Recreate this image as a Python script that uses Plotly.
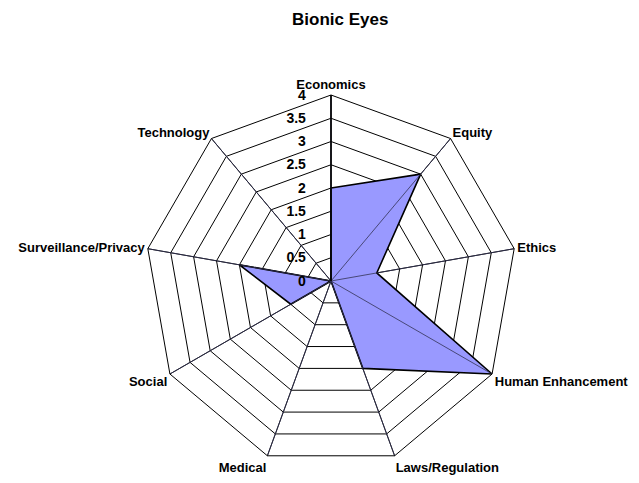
import plotly.graph_objects as go

categories = ["Economics", "Equity", "Ethics", "Human Enhancement", "Laws/Regulation",
              "Medical", "Social", "Surveillance/Privacy", "Technology"]
values = [2, 3, 1, 4, 2, 0, 1, 2, 0]
tick_vals = [0, 0.5, 1, 1.5, 2, 2.5, 3, 3.5, 4]
tick_text = ["0", "0.5", "1", "1.5", "2", "2.5", "3", "3.5", "4"]
r_max = 4

fig = go.Figure()
fig.add_trace(go.Scatterpolar(
    r=values + [values[0]],
    theta=categories + [categories[0]],
    mode="lines",
    fill="toself",
    fillcolor="#9999FF",
    line=dict(color="#000000", width=1.6),
    showlegend=False,
    hoverinfo="skip",
))

# spokes visible through the filled area
for c in categories:
    fig.add_trace(go.Scatterpolar(
        r=[0, r_max], theta=[c, c], mode="lines",
        line=dict(color="#333355", width=0.8),
        showlegend=False, hoverinfo="skip",
    ))

pad = "\u00a0" * 5
fig.update_layout(
    width=639, height=483,
    paper_bgcolor="white",
    margin=dict(l=0, r=0, t=0, b=0),
    font=dict(family="Liberation Sans, Arial, sans-serif", size=12, color="black"),
    title=dict(text="<b>Bionic Eyes</b>", x=0.52, xanchor="center", y=0.977, yanchor="middle",
               font=dict(size=17, color="black")),
    polar=dict(
        domain=dict(x=[137/639, 509/639], y=[1-459/483, 1-87/483]),
        bgcolor="white",
        gridshape="linear",
        angularaxis=dict(
            rotation=90, direction="clockwise",
            linecolor="black", linewidth=1,
            gridcolor="black", gridwidth=1,
            showline=True, ticks="",
            tickfont=dict(size=13, color="black", weight="bold"),
        ),
        radialaxis=dict(
            range=[0, r_max], tickvals=tick_vals, ticktext=[t + pad for t in tick_text],
            angle=90, tickangle=90, side="counterclockwise",
            showline=True, linecolor="black", linewidth=1.5,
            gridcolor="black", gridwidth=1,
            ticks="", layer="above traces",
            tickfont=dict(size=14, color="black", weight="bold"),
        ),
    ),
)

fig.write_html("out.html")
